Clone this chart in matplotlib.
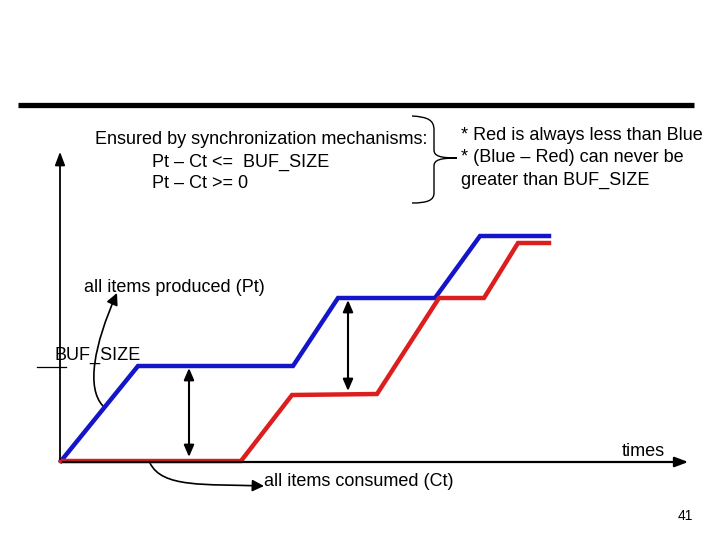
import matplotlib.pyplot as plt
from matplotlib.patches import FancyArrowPatch, PathPatch
from matplotlib.path import Path

plt.rcParams['font.family'] = ['Liberation Sans', 'DejaVu Sans']

# curves in slide pixel coordinates (y grows downward)
blue_x = [61, 138, 293, 338, 435, 480, 549]
blue_y = [461, 366, 366, 298, 298, 236, 236]
red_x = [61, 241, 292, 377, 439, 484, 518, 549]
red_y = [461, 461, 395, 394, 298, 298, 243, 243]

note_left = ["Ensured by synchronization mechanisms:",
             "Pt \u2013 Ct <=  BUF_SIZE",
             "Pt \u2013 Ct >= 0"]
note_right = ["* Red is always less than Blue",
              "* (Blue \u2013 Red) can never be",
              "greater than BUF_SIZE"]

fig = plt.figure(figsize=(7.2, 5.4), dpi=100)
ax = fig.add_axes([0, 0, 1, 1])
ax.set_xlim(0, 720)
ax.set_ylim(540, 0)
ax.axis('off')

# title rule
ax.plot([18, 694], [105, 105], color='black', lw=3.8, solid_capstyle='butt')

# axes with arrows
ax.annotate('', xy=(60, 149), xytext=(60, 462),
            arrowprops=dict(arrowstyle='-|>,head_length=0.8,head_width=0.3', color='black', lw=1.3))
ax.annotate('', xy=(691, 462), xytext=(60, 462),
            arrowprops=dict(arrowstyle='-|>,head_length=0.8,head_width=0.3', color='black', lw=1.6))

# BUF_SIZE tick
ax.plot([37, 66], [367, 367], color='black', lw=0.9)
ax.text(55, 355, "BUF_SIZE", fontsize=13, va='center', ha='left')

ax.plot(blue_x, blue_y, color='#1414c8', lw=3.2, solid_joinstyle='miter')
ax.plot(red_x, red_y, color='#dc1e1e', lw=3.2, solid_joinstyle='miter')

# double-headed arrows showing the gap
for x, y0, y1 in [(189, 368, 457), (348, 300, 391)]:
    ax.annotate('', xy=(x, y1), xytext=(x, y0),
                arrowprops=dict(arrowstyle='<|-|>,head_length=0.7,head_width=0.3',
                                color='black', lw=1.5, shrinkA=0, shrinkB=0))

# curved pointers
curve_codes = [Path.MOVETO, Path.CURVE4, Path.CURVE4, Path.CURVE4]
produced = Path([(103, 406), (86, 388), (94, 345), (117, 293)], curve_codes)
consumed = Path([(150, 463), (162, 488), (205, 484), (264, 486)], curve_codes)
for p in (produced, consumed):
    ax.add_patch(FancyArrowPatch(path=p, arrowstyle='-|>,head_length=7,head_width=3.5',
                                 color='black', lw=1.2))

ax.text(84, 287, "all items produced (Pt)", fontsize=13, va='center', ha='left')
ax.text(264, 482, "all items consumed (Ct)", fontsize=13, va='center', ha='left')
ax.text(622, 452, "times", fontsize=13, va='center', ha='left')
ax.text(678, 516, "41", fontsize=10, va='center', ha='left')

# notes
ax.text(95, 140, note_left[0], fontsize=13, va='center', ha='left')
ax.text(152, 162, note_left[1], fontsize=13, va='center', ha='left')
ax.text(152, 184, note_left[2], fontsize=13, va='center', ha='left')
for i, line in enumerate(note_right):
    ax.text(461, 136 + 22 * i, line, fontsize=13, va='center', ha='left')

# curly brace
verts = [(412, 116), (428, 117), (434, 120), (434, 130),
         (434, 145), (434, 145), (434, 150),
         (434, 156), (440, 158), (457, 158),
         (440, 158), (434, 160), (434, 166),
         (434, 190), (434, 190), (434, 193),
         (434, 200), (428, 203), (412, 203)]
codes = [Path.MOVETO, Path.CURVE4, Path.CURVE4, Path.CURVE4,
         Path.LINETO, Path.LINETO, Path.LINETO,
         Path.CURVE4, Path.CURVE4, Path.CURVE4,
         Path.CURVE4, Path.CURVE4, Path.CURVE4,
         Path.LINETO, Path.LINETO, Path.LINETO,
         Path.CURVE4, Path.CURVE4, Path.CURVE4]
ax.add_patch(PathPatch(Path(verts, codes), fill=False, lw=1.0, edgecolor='black'))

fig.savefig('out.png', dpi=100)
